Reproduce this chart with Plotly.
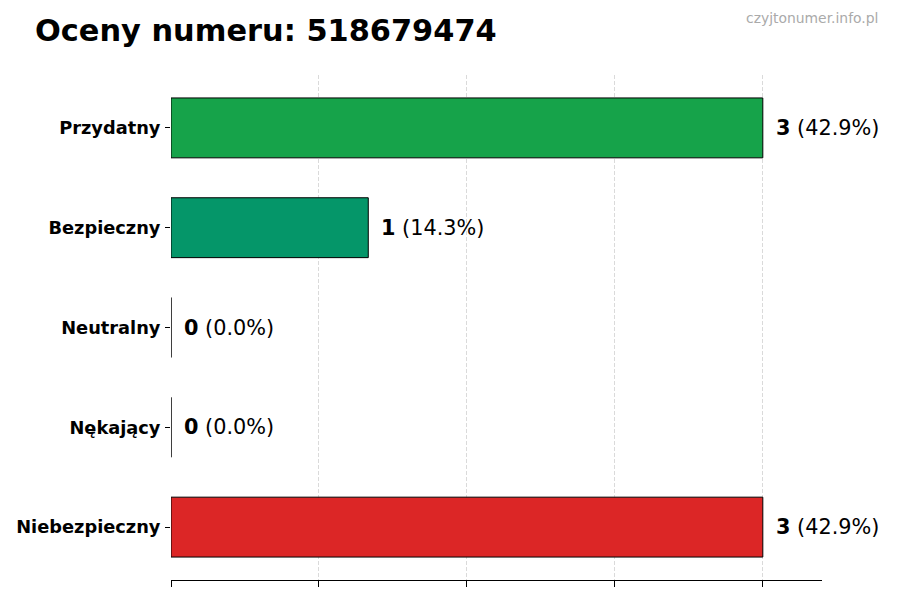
import plotly.graph_objects as go

categories = ["Przydatny", "Bezpieczny", "Neutralny", "Nękający", "Niebezpieczny"]
counts = [3, 1, 0, 0, 3]
percents = [42.9, 14.3, 0.0, 0.0, 42.9]
colors = ["#16a34a", "#059669", "#9ca3af", "#f97316", "#dc2626"]
title_text = "Oceny numeru: 518679474"
watermark = "czyjtonumer.info.pl"
x_ticks = [0, 0.75, 1.5, 2.25, 3]

FONT = "DejaVu Sans"

pl, pr, pt, pb = 171, 78, 75, 20
pw, ph = 900 - pl - pr, 600 - pt - pb

fig = go.Figure()
fig.add_trace(go.Bar(
    x=counts,
    y=categories,
    orientation="h",
    width=0.6,
    marker=dict(color=colors, line=dict(color="black", width=1)),
    hoverinfo="skip",
))

annotations = []
for c, v, p in zip(categories, counts, percents):
    annotations.append(dict(
        x=v, y=c, xref="x", yref="y",
        text=f"<b>{v}</b> ({p:.1f}%)",
        showarrow=False, xanchor="left", yanchor="middle",
        xshift=11,
        font=dict(family=FONT, size=20.8, color="black"),
    ))
annotations.append(dict(
    x=(880 - pl) / pw, y=(600 - 18 - pb) / ph, xref="paper", yref="paper",
    text=watermark, showarrow=False, xanchor="right", yanchor="middle",
    font=dict(family=FONT, size=13.9, color="#aaaaaa"),
))

max_v = max(counts)
fig.update_layout(
    width=900, height=600,
    margin=dict(l=pl, r=pr, t=pt, b=pb),
    paper_bgcolor="white", plot_bgcolor="white",
    showlegend=False,
    title=dict(
        text=f"<b>{title_text}</b>",
        x=35 / 900, xref="container", xanchor="left",
        y=1 - 30 / 600, yref="container", yanchor="middle",
        font=dict(family=FONT, size=30.4, color="black"),
    ),
    font=dict(family=FONT, color="black"),
    annotations=annotations,
    xaxis=dict(
        range=[0, max_v * 1.1],
        tickvals=x_ticks, showticklabels=False,
        ticks="outside", ticklen=6, tickcolor="black", tickwidth=1,
        showgrid=True, gridcolor="rgba(205,205,205,0.75)", griddash="4px,2px", gridwidth=0.8,
        showline=True, linecolor="black", linewidth=1,
        zeroline=False, layer="above traces",
    ),
    yaxis=dict(
        categoryorder="array", categoryarray=categories[::-1],
        range=[-0.53, len(categories) - 1 + 0.53],
        ticks="outside", ticklen=5, tickcolor="black", tickwidth=1,
        showgrid=False, showline=False, zeroline=False,
        tickfont=dict(family=FONT, size=17.8, color="black", weight="bold"),
        ticklabelstandoff=1,
    ),
)

fig.write_html("out.html")
